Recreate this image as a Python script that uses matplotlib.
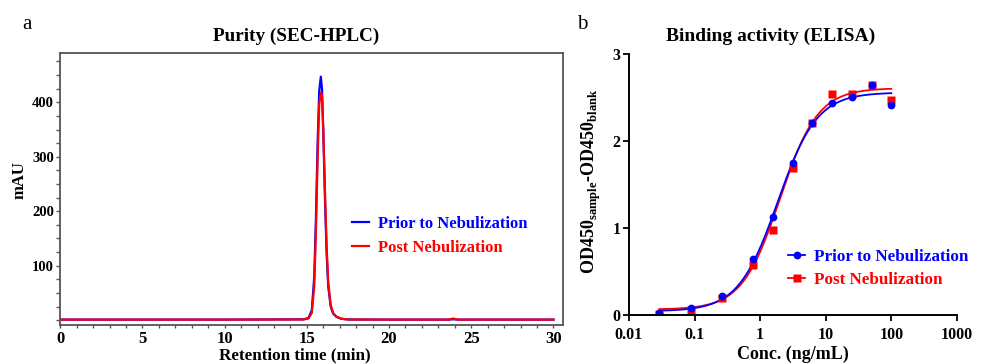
import numpy as np
import matplotlib
matplotlib.use("Agg")
import matplotlib.pyplot as plt
from matplotlib.lines import Line2D
from matplotlib.ticker import FixedLocator, NullFormatter, NullLocator

# -----------------------------
# Data
# -----------------------------

# panel a: SEC-HPLC chromatogram
hplc_time = [0, 5, 10, 14.8, 15.1, 15.3, 15.45, 15.55, 15.65, 15.75, 15.85, 15.92,
             16.0, 16.1, 16.2, 16.3, 16.45, 16.6, 16.8, 17.1, 17.5, 20, 23.6, 23.9, 24.2, 30]
prior_mau = [1, 1, 1, 1.5, 4, 18, 80, 185, 320, 420, 447, 425,
             345, 225, 125, 62, 25, 12, 6, 2.5, 1.2, 1, 1, 1.5, 1, 1]
post_mau = [1, 1, 1, 1.2, 3, 13, 62, 160, 290, 395, 418, 412,
            350, 240, 138, 70, 28, 13, 6.5, 2.5, 1.2, 1, 1, 3, 1, 1]

# panel b: ELISA points
conc = [0.0289, 0.0868, 0.26, 0.78, 1.5625, 3.125, 6.25, 12.5, 25, 50, 100]
prior_od = [0.02, 0.077, 0.22, 0.64, 1.12, 1.745, 2.205, 2.44, 2.51, 2.645, 2.415]
post_od = [0.01, 0.06, 0.19, 0.57, 0.98, 1.69, 2.21, 2.545, 2.545, 2.65, 2.475]

# 4PL fit parameters (bottom, top, EC50, hill) as drawn in the figure
prior_fit = (0.04, 2.56, 1.85, 1.45)
post_fit = (0.06, 2.61, 2.0, 1.5)

labels = ["Prior to Nebulization", "Post Nebulization"]
BLUE = "#0000ff"
RED = "#ff0000"

# -----------------------------
# Style
# -----------------------------

plt.rcParams["font.family"] = ["Liberation Serif", "DejaVu Serif"]
plt.rcParams["font.weight"] = "bold"
plt.rcParams["mathtext.fontset"] = "custom"
plt.rcParams["mathtext.rm"] = "Liberation Serif:bold"
plt.rcParams["mathtext.bf"] = "Liberation Serif:bold"

fig = plt.figure(figsize=(9.84, 3.64), dpi=100)

# -----------------------------
# Panel a
# -----------------------------

ax1 = fig.add_axes([0.0612, 0.1085, 0.5113, 0.7467])
ax1.plot(hplc_time, prior_mau, color=BLUE, lw=1.6)
ax1.plot(hplc_time, post_mau, color=RED, lw=1.6)
ax1.set_xlim(0, 30.6)
ax1.set_ylim(-8, 491)

frame = "#555555"
for sp in ax1.spines.values():
    sp.set_color(frame)
    sp.set_linewidth(1.3)

ax1.xaxis.set_major_locator(FixedLocator(range(0, 31, 5)))
ax1.xaxis.set_minor_locator(FixedLocator(range(0, 31)))
ax1.yaxis.set_major_locator(FixedLocator([100, 200, 300, 400]))
ax1.yaxis.set_minor_locator(FixedLocator(range(0, 476, 25)))
ax1.tick_params(axis="x", which="both", direction="out", length=2.5, width=1,
                color=frame, labelsize=12, pad=2)
ax1.tick_params(axis="y", which="both", direction="out", length=3, width=1,
                color=frame, labelsize=10.5, pad=1.5)
for t in ax1.get_xticklabels() + ax1.get_yticklabels():
    t.set_fontweight("bold")

ax1.set_ylabel("mAU", fontsize=12, fontweight="bold")
ax1.yaxis.set_label_coords(-0.066, 0.53)
fig.text(0.30, 0.003, "Retention time (min)", ha="center", va="bottom",
         fontsize=12.3, fontweight="bold")
fig.text(0.301, 0.901, "Purity (SEC-HPLC)", ha="center", va="center",
         fontsize=13.8, fontweight="bold")
fig.text(0.027, 0.934, "a", ha="center", va="center", fontsize=15,
         fontweight="normal")

handles1 = [Line2D([], [], color=BLUE, lw=1.6), Line2D([], [], color=RED, lw=1.6)]
leg1 = ax1.legend(handles1, labels, loc="upper left", bbox_to_anchor=(0.567, 0.424),
                  frameon=False, handlelength=1.0, handletextpad=0.55,
                  labelspacing=0.48, prop={"size": 12, "weight": "bold"},
                  labelcolor=[BLUE, RED], borderaxespad=0)

# -----------------------------
# Panel b
# -----------------------------

def four_pl(x, bottom, top, ec50, hill):
    return bottom + (top - bottom) / (1 + (ec50 / x) ** hill)

ax2 = fig.add_axes([0.6392, 0.1354, 0.3333, 0.7154])
xfit = np.geomspace(conc[0], conc[-1], 300)
ax2.plot(xfit, four_pl(xfit, *post_fit), color=RED, lw=1.3)
ax2.plot(xfit, four_pl(xfit, *prior_fit), color=BLUE, lw=1.3)
ax2.plot(conc, post_od, "s", color=RED, ms=5.2, mec="none")
ax2.plot(conc, prior_od, "o", color=BLUE, ms=5.6, mec="none")

ax2.set_xscale("log")
ax2.set_xlim(0.01, 1000)
ax2.set_ylim(0, 3)
ax2.set_xticks([0.01, 0.1, 1, 10, 100, 1000])
ax2.set_xticklabels(["0.01", "0.1", "1", "10", "100", "1000"])
ax2.xaxis.set_minor_locator(NullLocator())
ax2.xaxis.set_minor_formatter(NullFormatter())
ax2.set_yticks([0, 1, 2, 3])
ax2.spines["top"].set_visible(False)
ax2.spines["right"].set_visible(False)
for sp in ("left", "bottom"):
    ax2.spines[sp].set_linewidth(1.4)
ax2.tick_params(axis="both", direction="out", length=4.5, width=1.3,
                labelsize=11.5)
ax2.tick_params(axis="x", pad=4)
ax2.tick_params(axis="y", pad=1.5)
for t in ax2.get_xticklabels() + ax2.get_yticklabels():
    t.set_fontweight("bold")

ax2.set_ylabel(r"OD450$_{\rm sample}$-OD450$_{\rm blank}$", fontsize=13,
               fontweight="bold")
ax2.yaxis.set_label_coords(-0.079, 0.513)
fig.text(0.806, 0.003, "Conc. (ng/mL)", ha="center", va="bottom",
         fontsize=13, fontweight="bold")
fig.text(0.783, 0.901, "Binding activity (ELISA)", ha="center", va="center",
         fontsize=14, fontweight="bold")
fig.text(0.592, 0.934, "b", ha="center", va="center", fontsize=15,
         fontweight="normal")

handles2 = [Line2D([], [], color=BLUE, lw=1.3, marker="o", ms=5.6, mec="none"),
            Line2D([], [], color=RED, lw=1.3, marker="s", ms=5.2, mec="none")]
leg2 = ax2.legend(handles2, labels, loc="upper left", bbox_to_anchor=(0.464, 0.277),
                  frameon=False, handlelength=1.0, handletextpad=0.55,
                  labelspacing=0.4, prop={"size": 12.3, "weight": "bold"},
                  labelcolor=[BLUE, RED], borderaxespad=0)

fig.savefig("out.png", dpi=100)
